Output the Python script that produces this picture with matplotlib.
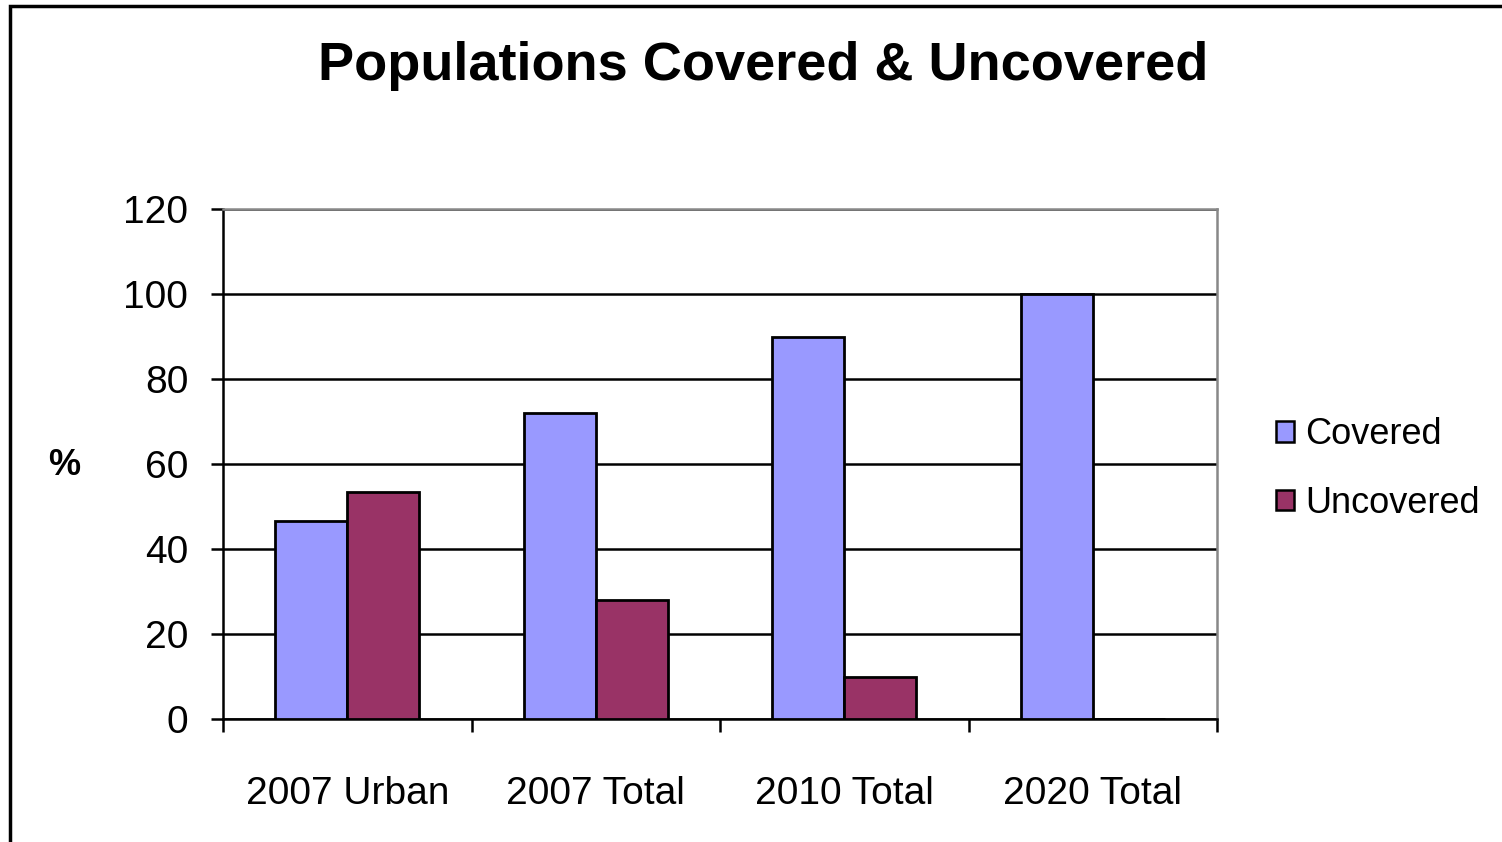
import matplotlib.pyplot as plt
from matplotlib.patches import Rectangle, Patch
import numpy as np

plt.rcParams['font.family'] = ['Liberation Sans', 'DejaVu Sans']

categories = ['2007 Urban', '2007 Total', '2010 Total', '2020 Total']
covered = [46.5, 72, 90, 100]
uncovered = [53.5, 28, 10, 0]
series_names = ['Covered', 'Uncovered']
colors = ['#9999FF', '#993366']

fig = plt.figure(figsize=(15.02, 8.42), dpi=100)
ax = fig.add_axes([223/1502, 1 - 719/842, (1217 - 223)/1502, (719 - 209)/842])

x = np.arange(len(categories))
w = 0.29
ax.bar(x - w/2, covered, w, color=colors[0], edgecolor='black', linewidth=2.0, zorder=3)
ax.bar(x + w/2, uncovered, w, color=colors[1], edgecolor='black', linewidth=2.0, zorder=3)

ax.set_xlim(-0.5, len(categories) - 0.5)
ax.set_ylim(0, 120)
ax.set_yticks(range(0, 121, 20))
ax.tick_params(axis='y', labelsize=28, length=9, width=1.8, pad=16)
ax.yaxis.grid(True, color='black', linewidth=1.8, zorder=1)

# category labels sit between the boundary ticks
ax.set_xticks(x)
ax.set_xticklabels(categories)
ax.tick_params(axis='x', which='major', labelsize=28, length=0, pad=41)
ax.set_xticks(np.arange(-0.5, len(categories)), minor=True)
ax.tick_params(axis='x', which='minor', length=9, width=1.8)

for side in ['left', 'bottom']:
    ax.spines[side].set_color('black')
    ax.spines[side].set_linewidth(1.8)
for side in ['top', 'right']:
    ax.spines[side].set_color('#888888')
    ax.spines[side].set_linewidth(1.8)

fig.text(0.508, 1 - 66/842, 'Populations Covered & Uncovered', ha='center', va='center',
         fontsize=39, fontweight='bold')
fig.text(64/1502, 1 - 466/842, '%', ha='center', va='center', fontsize=26, fontweight='bold')

handles = [Patch(facecolor=c, edgecolor='black', linewidth=1.8) for c in colors]
fig.legend(handles, series_names, loc='center left', bbox_to_anchor=(1243/1502, 1 - 469/842),
           frameon=False, fontsize=26, handlelength=0.5, handleheight=0.5,
           handletextpad=0.33, labelspacing=0.92)

fig.patches.append(Rectangle((10/1502, -0.1), 1.2, 1 - 6/842 + 0.1, transform=fig.transFigure,
                             fill=False, edgecolor='black', linewidth=2.5))

fig.savefig('out.png', dpi=100)
